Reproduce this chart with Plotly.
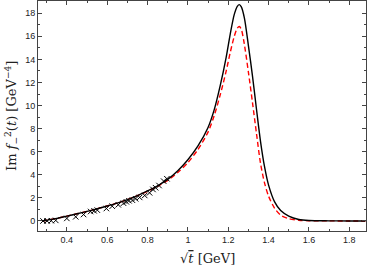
import plotly.graph_objects as go

# curve abscissa (sqrt(t) in GeV)
sqrt_t = [0.28, 0.30, 0.35, 0.40, 0.45, 0.50, 0.55, 0.60, 0.65, 0.70, 0.75, 0.80,
          0.85, 0.90, 0.95, 1.00, 1.05, 1.10, 1.13, 1.16, 1.19, 1.21, 1.23, 1.245,
          1.255, 1.265, 1.28, 1.30, 1.32, 1.34, 1.36, 1.38, 1.40, 1.43, 1.46, 1.50,
          1.55, 1.60, 1.70, 1.80, 1.88]

# solid black curve
im_solid = [0.0, 0.06, 0.22, 0.42, 0.62, 0.83, 1.05, 1.30, 1.55, 1.85, 2.20, 2.60,
            3.05, 3.60, 4.35, 5.30, 6.50, 8.10, 9.60, 11.7, 14.2, 16.2, 17.9, 18.6,
            18.75, 18.55, 17.6, 15.2, 12.6, 9.7, 6.9, 4.7, 3.1, 1.65, 0.9, 0.42,
            0.13, 0.04, 0.01, 0.0, 0.0]

# dashed red curve
im_dashed = [0.0, 0.06, 0.22, 0.42, 0.62, 0.83, 1.05, 1.30, 1.55, 1.85, 2.20, 2.58,
             3.0, 3.52, 4.2, 5.05, 6.2, 7.7, 9.1, 10.9, 13.0, 14.6, 16.0, 16.7,
             16.85, 16.6, 15.3, 12.9, 10.3, 7.6, 5.0, 3.3, 2.15, 1.1, 0.5, 0.2,
             0.06, 0.02, 0.005, 0.0, 0.0]

# data points (crosses)
pts_x = [0.282, 0.302, 0.323, 0.345, 0.40, 0.444, 0.483, 0.518, 0.535, 0.551,
         0.596, 0.625, 0.655, 0.681, 0.695, 0.708, 0.725, 0.741, 0.761, 0.786,
         0.81, 0.827, 0.84, 0.857, 0.88, 0.896]
pts_y = [0.0, 0.0, 0.02, 0.05, 0.22, 0.36, 0.56, 0.82, 0.88, 0.94,
         1.08, 1.28, 1.40, 1.54, 1.66, 1.75, 1.80, 1.92, 2.04, 2.21,
         2.44, 2.73, 2.88, 3.07, 3.45, 3.66]

x_ticks = [0.4, 0.6, 0.8, 1.0, 1.2, 1.4, 1.6, 1.8]
x_labels = ["0.4", "0.6", "0.8", "1", "1.2", "1.4", "1.6", "1.8"]
y_ticks = [0, 2, 4, 6, 8, 10, 12, 14, 16, 18]

x_title = "√<span style='text-decoration:overline'><i>t</i></span> [GeV]"
y_title = "Im <i>f</i><sub>−</sub><sup>2</sup>(<i>t</i>) [GeV<sup>−4</sup>]"

fig = go.Figure()
fig.add_trace(go.Scatter(x=sqrt_t, y=im_dashed, mode="lines", line_shape="spline",
                         line=dict(color="#ff0000", width=1.4, dash="5px,3px", smoothing=0.8),
                         showlegend=False, hoverinfo="skip"))
fig.add_trace(go.Scatter(x=sqrt_t, y=im_solid, mode="lines", line_shape="spline",
                         line=dict(color="black", width=1.4, smoothing=0.8),
                         showlegend=False, hoverinfo="skip"))
fig.add_trace(go.Scatter(x=pts_x, y=pts_y, mode="markers",
                         marker=dict(symbol="x-thin", size=5.5,
                                     line=dict(color="black", width=1)),
                         showlegend=False, hoverinfo="skip"))

tickfont = dict(family="Liberation Sans, Arial, sans-serif", size=9, color="#222")
titlefont = dict(family="DejaVu Serif, Liberation Serif, serif", size=13, color="#222")

fig.update_layout(
    width=371, height=268,
    margin=dict(l=38, r=5, t=1, b=37),
    plot_bgcolor="white", paper_bgcolor="white",
    xaxis=dict(range=[0.257, 1.883], tickvals=x_ticks, ticktext=x_labels,
               automargin=False,
               showgrid=False, zeroline=False, showline=True, linecolor="#444",
               linewidth=1, mirror="ticks", ticks="inside", ticklen=4,
               tickcolor="#444", tickfont=tickfont,
               minor=dict(tickvals=[0.3, 0.5, 0.7, 0.9, 1.1, 1.3, 1.5, 1.7],
                          ticks="inside", ticklen=2, tickcolor="#444")),
    yaxis=dict(range=[-0.87, 19.06], tickvals=y_ticks, automargin=False,
               showgrid=False, zeroline=False, showline=True, linecolor="#444",
               linewidth=1, mirror="ticks", ticks="inside", ticklen=4,
               tickcolor="#444", tickfont=tickfont,
               minor=dict(tickvals=[1, 3, 5, 7, 9, 11, 13, 15, 17],
                          ticks="inside", ticklen=2, tickcolor="#444")),
    annotations=[
        dict(text=x_title, xref="paper", yref="paper", x=0.518, y=0,
             xanchor="center", yanchor="middle", yshift=-27, showarrow=False,
             font=titlefont),
        dict(text=y_title, xref="paper", yref="paper", x=0, y=0.5,
             xanchor="center", yanchor="middle", xshift=-26, textangle=-90,
             showarrow=False, font=titlefont),
    ],
)

fig.write_html("out.html", config={"displayModeBar": False},
               post_script="document.body.style.margin='0';document.body.style.overflow='hidden';")
